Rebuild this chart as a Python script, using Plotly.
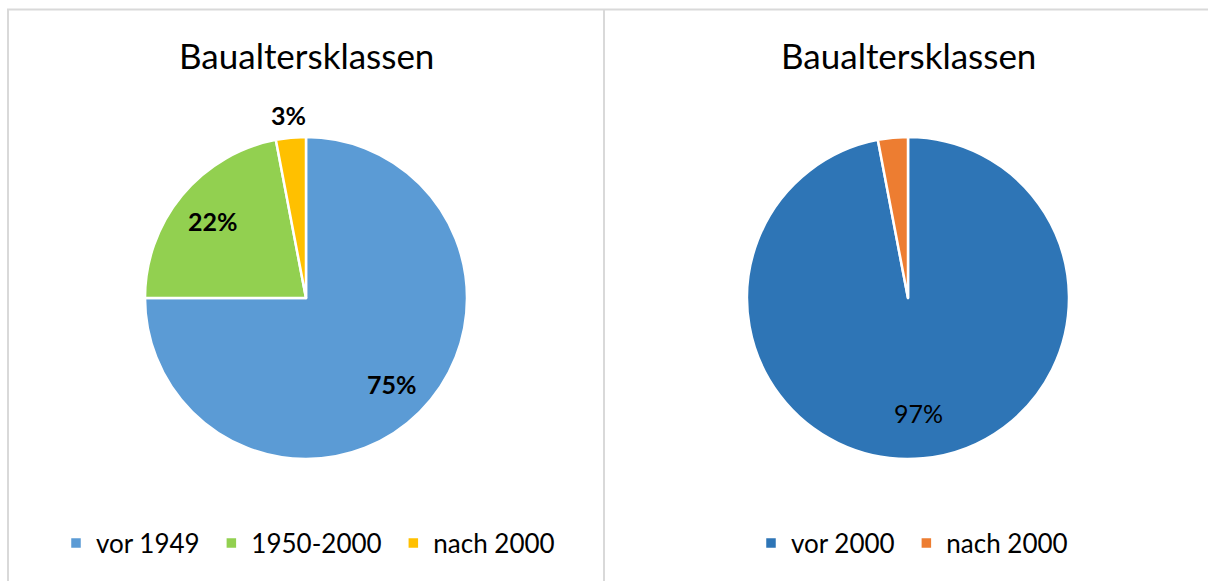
import math
import plotly.graph_objects as go

# Data
title_text = "Baualtersklassen"
labels_left = ["vor 1949", "1950-2000", "nach 2000"]
values_left = [75, 22, 3]
colors_left = ["#5B9BD5", "#92D050", "#FFC000"]

labels_right = ["vor 2000", "nach 2000"]
values_right = [97, 3]
colors_right = ["#2E75B6", "#ED7D31"]

W, H = 1208, 581
FONT = "Lato"
R = 161  # pie radius in px
CY = 298
CX_LEFT, CX_RIGHT = 306, 908

# label placement (fraction of radius along slice bisector)
label_r_left = [0.755, 0.75, 1.14]
label_r_right = [0.72, None]
NB = "\u00a0"  # legend spacing padding


def dom(cx):
    return dict(x=[(cx - R) / W, (cx + R) / W], y=[1 - (CY + R) / H, 1 - (CY - R) / H])


fig = go.Figure()

fig.add_trace(go.Pie(
    labels=[l + NB for l in labels_left], values=values_left, sort=False,
    direction="clockwise", rotation=0,
    marker=dict(colors=colors_left, line=dict(color="white", width=2.5)),
    textinfo="none", domain=dom(CX_LEFT), legend="legend", hoverinfo="label+percent",
))

fig.add_trace(go.Pie(
    labels=[labels_right[0] + NB] + labels_right[1:],
    values=values_right, sort=False,
    direction="clockwise", rotation=0,
    marker=dict(colors=colors_right, line=dict(color="white", width=2.5)),
    textinfo="none", domain=dom(CX_RIGHT), legend="legend2", hoverinfo="label+percent",
))


def pct_annotations(values, cx, rfrac, bold):
    total = sum(values)
    anns = []
    cum = 0
    for v, f in zip(values, rfrac):
        mid = (cum + v / 2) / total * 2 * math.pi
        cum += v
        if f is None:
            continue
        px = cx + R * f * math.sin(mid)
        py = CY - R * f * math.cos(mid)
        txt = f"{v / total * 100:.0f}%"
        anns.append(dict(
            text=txt, x=px / W, y=1 - py / H, xref="paper", yref="paper", showarrow=False,
            xanchor="center", yanchor="middle",
            font=dict(family=FONT, size=25, color="black", weight="bold" if bold else "normal"),
        ))
    return anns


line_col = "#D9D9D9"
shapes = [
    dict(type="line", xref="paper", yref="paper", x0=7 / W, x1=1, y0=1 - 9.5 / H, y1=1 - 9.5 / H,
         line=dict(color=line_col, width=2)),
    dict(type="line", xref="paper", yref="paper", x0=8 / W, x1=8 / W, y0=0, y1=1 - 9.5 / H,
         line=dict(color=line_col, width=2)),
    dict(type="line", xref="paper", yref="paper", x0=604 / W, x1=604 / W, y0=0, y1=1 - 9.5 / H,
         line=dict(color=line_col, width=2)),
]

annotations = [
    dict(text=title_text, x=CX_LEFT / W, y=1 - 55 / H, xref="paper", yref="paper", showarrow=False,
         xanchor="center", yanchor="middle", font=dict(family=FONT, size=35, color="black")),
    dict(text=title_text, x=CX_RIGHT / W, y=1 - 55 / H, xref="paper", yref="paper", showarrow=False,
         xanchor="center", yanchor="middle", font=dict(family=FONT, size=35, color="black")),
]
annotations += pct_annotations(values_left, CX_LEFT, label_r_left, True)
annotations += pct_annotations(values_right, CX_RIGHT, label_r_right, False)

legend_common = dict(orientation="h", yanchor="middle", xanchor="left",
                     font=dict(family=FONT, size=26, color="black"),
                     bgcolor="rgba(0,0,0,0)", itemclick=False, itemdoubleclick=False)

fig.update_layout(
    width=W, height=H,
    margin=dict(l=0, r=0, t=0, b=0),
    paper_bgcolor="white", plot_bgcolor="white",
    shapes=shapes, annotations=annotations,
    legend=dict(x=56 / W, y=1 - 543 / H, **legend_common),
    legend2=dict(x=751 / W, y=1 - 543 / H, **legend_common),
    showlegend=True,
)

fig.write_html("out.html", config={"displayModeBar": False},
               post_script="document.body.style.margin='0px';document.body.style.overflow='hidden';")
